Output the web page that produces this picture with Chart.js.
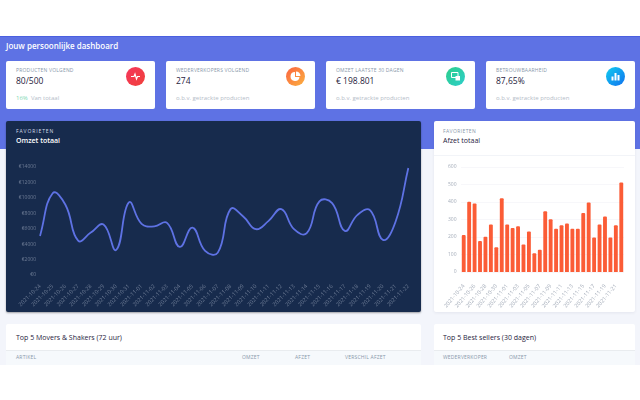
<!DOCTYPE html>
<html lang="nl">
<head>
<meta charset="utf-8">
<title>Dashboard</title>
<script src="https://cdn.jsdelivr.net/npm/chart.js@4"></script>
<style>
  html, body { margin: 0; padding: 0; background: #fff; }
  body { width: 640px; height: 400px; overflow: hidden; position: relative; font-family: "Open Sans", sans-serif; }
  .abs { position: absolute; white-space: nowrap; }
  .panel { position: absolute; background: #fff; border-radius: 2px; }
  .label { position: absolute; font-size: 5px; letter-spacing: .2px; color: #8898aa; white-space: nowrap; }
  .value { position: absolute; font-size: 8.5px; font-weight: 500; color: #1f2340; white-space: nowrap; }
  .title { position: absolute; font-size: 7px; font-weight: 500; color: #1f2340; white-space: nowrap; }
  .note { position: absolute; font-size: 6px; color: #b4bcc8; white-space: nowrap; }
  .dot { position: absolute; width: 19px; height: 19px; top: 6px; border-radius: 50%; left: 120px; }
  .dot svg { display: block; width: 19px; height: 19px; }
  canvas { position: absolute; }
</style>
</head>
<body>
<div class="abs" style="left:0;top:36px;width:640px;height:113px;background:#5e72e4;border-top:1px solid #4a5fe0;box-sizing:border-box"></div>
<div class="abs" style="left:0;top:149px;width:640px;height:216px;background:#f3f5fb"></div>
<div class="abs" style="left:6px;top:40px;font-size:8px;font-weight:600;color:#fff">Jouw persoonlijke dashboard</div>

<div class="panel" style="left:6px;top:61px;width:149px;height:48px">
  <div class="label" style="left:10px;top:6px">PRODUCTEN VOLGEND</div>
  <div class="value" style="left:10px;top:14px">80/500</div>
  <div class="note" style="left:10px;top:33px"><span style="color:#7fd8b4">16%</span>&nbsp; Van totaal</div>
  <div class="dot" style="background:linear-gradient(135deg,#f5365c,#f0413a)"><svg viewBox="0 0 19 19"><path d="M5 9.5h3l1-2.5 1.500 5 1-2.500h2.500" fill="none" stroke="#fff" stroke-width="1.200"/></svg></div>
</div>
<div class="panel" style="left:166px;top:61px;width:149px;height:48px">
  <div class="label" style="left:10px;top:6px">WEDERVERKOPERS VOLGEND</div>
  <div class="value" style="left:10px;top:14px">274</div>
  <div class="note" style="left:10px;top:33px">o.b.v. getrackte producten</div>
  <div class="dot" style="background:linear-gradient(135deg,#fb6340,#fbb140)"><svg viewBox="0 0 19 19"><path d="M9 5a4.500 4.500 0 1 0 4.500 5H9z M10 4.500v4.500h4.500a4.500 4.500 0 0 0-4.500-4.500z" fill="#fff"/></svg></div>
</div>
<div class="panel" style="left:326px;top:61px;width:149px;height:48px">
  <div class="label" style="left:10px;top:6px">OMZET LAATSTE 30 DAGEN</div>
  <div class="value" style="left:10px;top:14px">€ 198.801</div>
  <div class="note" style="left:10px;top:33px">o.b.v. getrackte producten</div>
  <div class="dot" style="background:linear-gradient(135deg,#2dce89,#2dcecc)"><svg viewBox="0 0 19 19"><path d="M5.500 5.500h6.500v5h-6.500z" fill="none" stroke="#fff" stroke-width="1"/><path d="M9.500 9h4.500v4.500h-4.500z" fill="#fff"/></svg></div>
</div>
<div class="panel" style="left:486px;top:61px;width:149px;height:48px">
  <div class="label" style="left:10px;top:6px">BETROUWBAARHEID</div>
  <div class="value" style="left:10px;top:14px">87,65%</div>
  <div class="note" style="left:10px;top:33px">o.b.v. getrackte producten</div>
  <div class="dot" style="background:linear-gradient(135deg,#11cdef,#1171ef)"><svg viewBox="0 0 19 19"><path d="M5.500 9.500h2v4h-2z M8.500 6h2v7.500h-2z M11.500 8h2v5.500h-2z" fill="#fff"/></svg></div>
</div>

<div class="panel" style="left:6px;top:121px;width:415px;height:191px;background:#172b4d;box-shadow:0 1px 2px rgba(0,0,0,.35)">
  <div class="label" style="left:10px;top:7px;color:#d5dce8;font-size:5px;letter-spacing:.9px">FAVORIETEN</div>
  <div class="title" style="left:10px;top:15px;color:#fff;font-weight:600">Omzet totaal</div>
</div>
<div class="panel" style="left:434px;top:121px;width:201px;height:191px;box-shadow:0 1px 3px rgba(50,50,93,.08)">
  <div class="label" style="left:9px;top:7px;font-size:5px;letter-spacing:.4px">FAVORIETEN</div>
  <div class="title" style="left:9px;top:15px">Afzet totaal</div>
  <div class="abs" style="left:0;top:34px;width:201px;height:1px;background:#f2f4f8"></div>
</div>
<canvas id="lineOmzet"></canvas>
<canvas id="barAfzet"></canvas>

<div class="panel" style="left:6px;top:324px;width:415px;height:41px">
  <div class="title" style="left:10px;top:9px;font-size:7px">Top 5 Movers &amp; Shakers (72 uur)</div>
  <div class="abs" style="left:0;top:26px;width:415px;height:15px;background:#f6f9fc;border-top:1px solid #e9ecef;box-sizing:border-box"></div>
  <div class="label" style="left:10px;top:30px;font-size:5px">ARTIKEL</div>
  <div class="label" style="left:236px;top:30px;font-size:5px">OMZET</div>
  <div class="label" style="left:289px;top:30px;font-size:5px">AFZET</div>
  <div class="label" style="left:339px;top:30px;font-size:5px">VERSCHIL AFZET</div>
</div>
<div class="panel" style="left:434px;top:324px;width:201px;height:41px">
  <div class="title" style="left:9px;top:9px;font-size:7px">Top 5 Best sellers (30 dagen)</div>
  <div class="abs" style="left:0;top:26px;width:201px;height:15px;background:#f6f9fc;border-top:1px solid #e9ecef;box-sizing:border-box"></div>
  <div class="label" style="left:9px;top:30px;font-size:5px">WEDERVERKOPER</div>
  <div class="label" style="left:75px;top:30px;font-size:5px">OMZET</div>
</div>

<script>
const dates = ['2021-10-24','2021-10-25','2021-10-26','2021-10-27','2021-10-28','2021-10-29','2021-10-30','2021-10-31',
  '2021-11-01','2021-11-02','2021-11-03','2021-11-04','2021-11-05','2021-11-06','2021-11-07','2021-11-08','2021-11-09',
  '2021-11-10','2021-11-11','2021-11-12','2021-11-13','2021-11-14','2021-11-15','2021-11-16','2021-11-17','2021-11-18',
  '2021-11-19','2021-11-20','2021-11-21','2021-11-22'];
const omzet = [5070,10600,9100,4460,5500,6550,3250,9400,6630,6300,6760,3640,6150,3120,2900,8540,7590,5940,7020,8540,
  5940,5420,9540,9320,5720,7800,8370,4550,6940,13870];
const afzet = [210,400,390,175,200,270,140,420,270,250,260,155,230,105,125,345,300,245,265,275,245,245,335,395,195,
  270,315,195,265,510];

function place(id, left, top, width, height) {
  const el = document.getElementById(id);
  el.style.left = left + 'px';
  el.style.top = top + 'px';
  el.style.width = width + 'px';
  el.style.height = height + 'px';
  el.width = width;
  el.height = height;
  return el;
}

Chart.defaults.font.family = '"Open Sans", sans-serif';
Chart.defaults.animation = false;

new Chart(place('lineOmzet', 6, 155, 415, 157), {
  type: 'line',
  data: {
    labels: dates,
    datasets: [{
      data: omzet,
      borderColor: '#5e72e4',
      borderWidth: 1.8,
      pointRadius: 0,
      tension: 0.45,
      fill: false
    }]
  },
  options: {
    responsive: false,
    layout: { padding: { top: 12, right: 12 } },
    plugins: { legend: { display: false }, tooltip: { enabled: false } },
    scales: {
      x: {
        offset: false,
        grid: { display: false, drawTicks: false },
        border: { display: false },
        afterFit: (s) => { s.height = 37; },
        ticks: { autoSkip: false, minRotation: 45, maxRotation: 45, padding: 8, color: '#6f7d96', font: { size: 5.5 } }
      },
      y: {
        min: 0,
        max: 14000,
        grid: { display: false, drawTicks: false },
        border: { display: false },
        afterFit: (s) => { s.width = 34; },
        ticks: { stepSize: 2000, padding: 4, color: '#6f7d96', font: { size: 5 }, callback: (v) => '€' + v }
      }
    }
  }
});

new Chart(place('barAfzet', 434, 155, 201, 157), {
  type: 'bar',
  data: {
    labels: dates,
    datasets: [{
      data: afzet,
      backgroundColor: '#fb5c36',
      barThickness: 3.2,
      borderRadius: 1
    }]
  },
  options: {
    responsive: false,
    layout: { padding: { top: 12, right: 11 } },
    plugins: { legend: { display: false }, tooltip: { enabled: false } },
    scales: {
      x: {
        grid: { display: false },
        border: { display: false },
        afterFit: (s) => { s.height = 40; },
        ticks: {
          autoSkip: false, minRotation: 50, maxRotation: 50, padding: 3, color: '#a5adba', font: { size: 5.5 },
          callback: (v, i) => (i % 2 === 0 && i < 29 ? dates[i] : '')
        }
      },
      y: {
        min: 0,
        max: 600,
        grid: { color: '#f3f4f8', lineWidth: 0.7, drawTicks: false },
        border: { display: false },
        afterFit: (s) => { s.width = 27; },
        ticks: { stepSize: 100, padding: 4.5, color: '#a5adba', font: { size: 5 } }
      }
    }
  }
});
</script>
</body>
</html>
